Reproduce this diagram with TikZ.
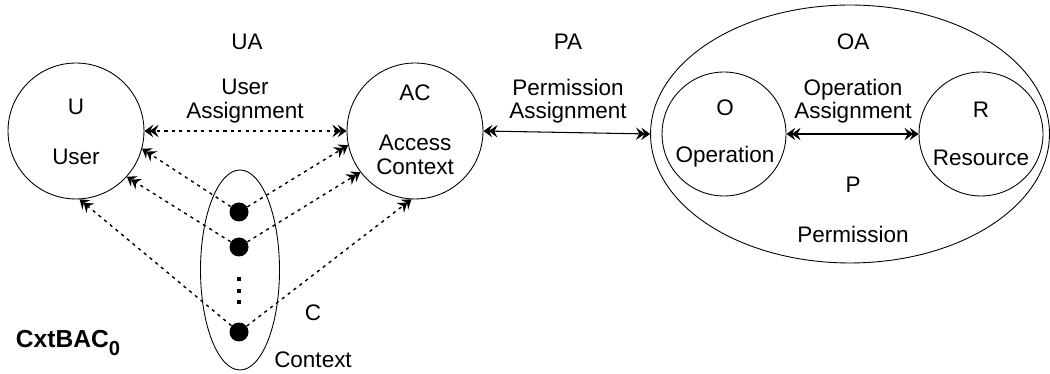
\documentclass[tikz,border=0pt]{standalone}
\usepackage{fontspec}
\setmainfont{Liberation Sans}
\usetikzlibrary{arrows.meta,shapes.geometric,positioning}

\tikzset{Dbl/.tip={Stealth[length=5pt,width=7pt,inset=1.8pt,sep=-2pt]Stealth[length=5pt,width=7pt,inset=1.8pt]}}

\begin{document}
\begin{tikzpicture}[
    x=0.02cm, y=-0.02cm,
    every node/.style={font=\fontsize{12.8}{13.4}\selectfont},
    set/.style={circle, draw=black, line width=0.5pt, minimum size=2.72cm, inner sep=0pt},
    part/.style={circle, draw=black, line width=0.5pt, minimum size=2.48cm, inner sep=0pt},
    group/.style={ellipse, draw=black, line width=0.5pt, inner sep=0pt},
    txt/.style={align=center, inner sep=0pt},
    ctx/.style={circle, fill=black, minimum size=0.38cm, inner sep=0pt},
    weak/.style={line width=0.8pt, dash pattern=on 1.8pt off 2.4pt, -Dbl},
    strong/.style={line width=0.6pt, Dbl-Dbl}
]
\useasboundingbox (0,0) rectangle (1050,374);

% Sets
\node[set] (U) at (76,131) {};
\node[set] (AC) at (415,131) {};
\node[group, minimum width=7.98cm, minimum height=5.16cm] (OA) at (850,134) {};
\node[part] (O) at (724,134) {};
\node[part] (R) at (981,134) {};
\node[group, minimum width=1.58cm, minimum height=4cm] (C) at (240,270) {};

% Context elements
\node[ctx] (c1) at (239,212) {};
\node[ctx] (c2) at (239,247) {};
\node[ctx] (cn) at (239,332) {};
\foreach \i/\y in {1/279,2/291,3/302}
    \node[fill=black, minimum size=0.07cm, inner sep=0pt] (v\i) at (239,\y) {};

% Labels
\node[txt] (ua) at (247,42) {UA};
\node[txt] (pa) at (568,42) {PA};
\node[txt] (oa) at (853,42) {OA};
\node[txt] (uat) at (245,101) {User\\Assignment};
\node[txt] (pat) at (568,101) {Permission\\Assignment};
\node[txt] (oat) at (853,101) {Operation\\Assignment};
\node[txt] (ul) at (76,107) {U};
\node[txt] (un) at (76,157) {User};
\node[txt] (acl) at (415,93) {AC};
\node[txt] (acn) at (415,155) {Access\\Context};
\node[txt] (ol) at (725,108) {O};
\node[txt] (on) at (725,157) {Operation};
\node[txt] (rl) at (981,110) {R};
\node[txt] (rn) at (981,158) {Resource};
\node[txt] (pl) at (853,185) {P};
\node[txt] (pn) at (853,234) {Permission};
\node[txt] (cl) at (313,313) {C};
\node[txt] (cnm) at (313,360) {Context};
\node[txt, font=\fontsize{14}{14}\selectfont\bfseries] (name) at (68,343)
    {CxtBAC\raisebox{-0.55ex}{\fontsize{11.5}{11.5}\selectfont 0}};

% Assignments
\draw[weak, Dbl-Dbl] (U) -- (AC);
\draw[strong] (AC.east) -- (OA.west);
\draw[strong] (O) -- (R);

% Context links
\draw[weak] (c1) -- (U.-15);
\draw[weak] (c2) -- (U.-42);
\draw[weak] (cn) -- (U.-87);
\draw[weak] (c1) -- (AC.192);
\draw[weak] (c2) -- (AC.217);
\draw[weak] (cn) -- (AC.267);

\end{tikzpicture}
\end{document}
